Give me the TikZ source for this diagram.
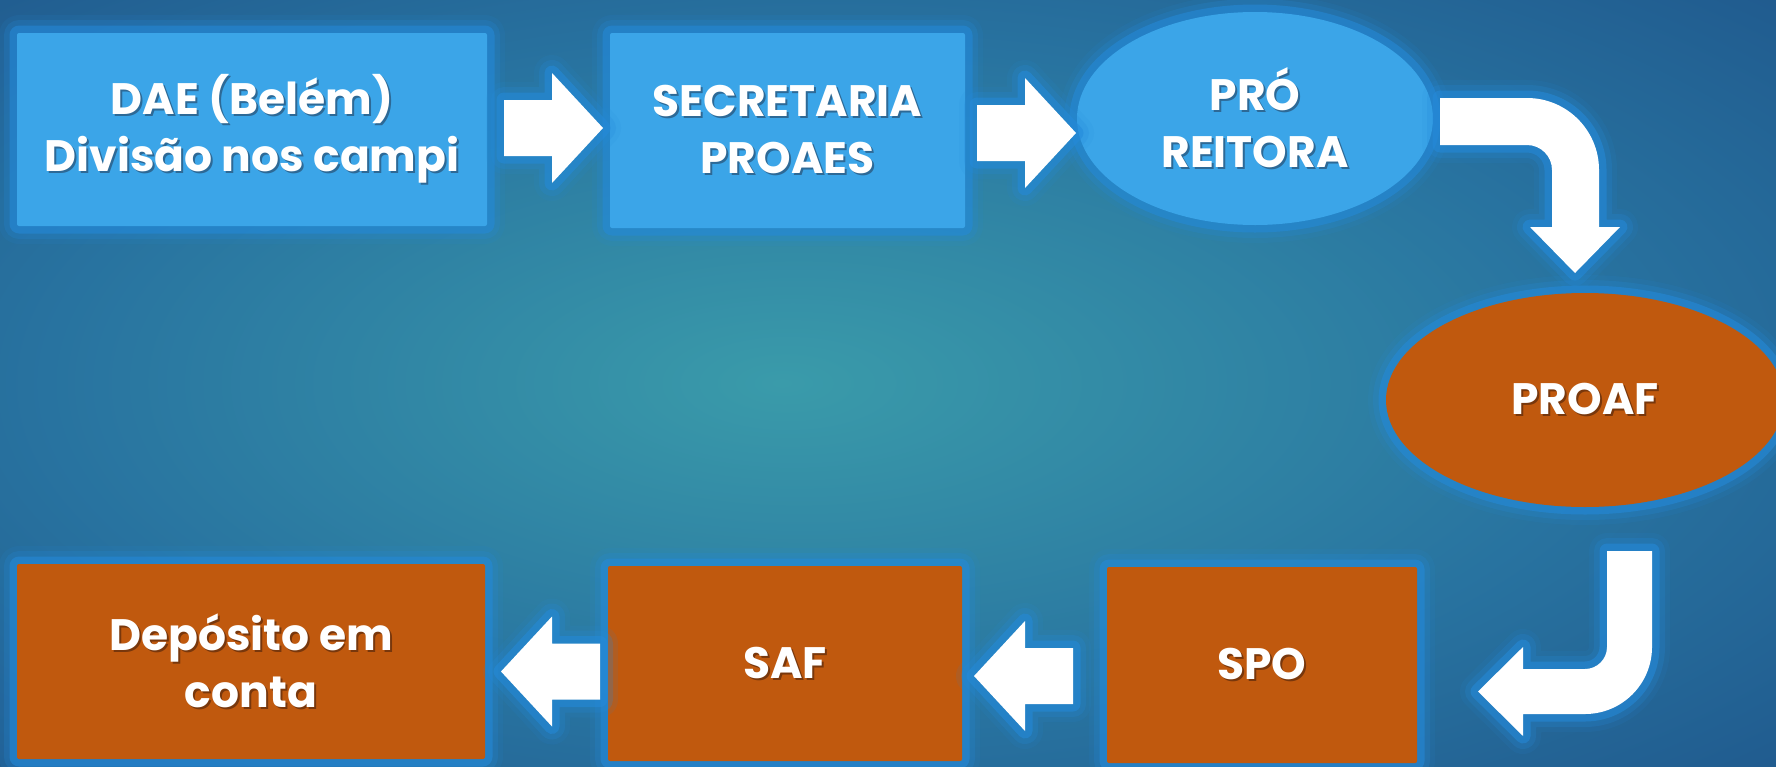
\documentclass[tikz,border=0pt]{standalone}
\usepackage{fontspec}
\setmainfont{Poppins}
\usetikzlibrary{shapes.geometric}

\definecolor{boxblue}{RGB}{59,165,232}
\definecolor{boxorange}{RGB}{192,89,14}
\definecolor{glowblue}{RGB}{36,138,218}
\definecolor{bgin}{RGB}{58,155,170}
\definecolor{bgmid}{RGB}{40,115,160}
\definecolor{bgout}{RGB}{25,68,126}
\definecolor{shblue}{RGB}{45,105,150}
\definecolor{shorange}{RGB}{120,55,12}

\pgfdeclareradialshading{slidebg}{\pgfpoint{-3bp}{0bp}}{color(0bp)=(bgin); color(22bp)=(bgmid); color(50bp)=(bgout)}

% white label with a small dark drop shadow
\newcommand\shtxt[1]{\leavevmode\rlap{\kern2pt\raisebox{-2pt}{\textcolor{\shcol}{#1}}}#1}

\tikzset{
  glow/.style={preaction={draw=glowblue, line width=36pt, draw opacity=0.10, line join=round},
               preaction={draw=glowblue, line width=26pt, draw opacity=0.22, line join=round},
               preaction={draw=glowblue, line width=15pt, draw opacity=0.55, line join=round}},
  label/.style={text=white, font=\bfseries\fontsize{44}{57}\selectfont, align=center, inner sep=0pt},
  bluebox/.style={rectangle, rounded corners=2pt, fill=boxblue, glow, label, execute at begin node=\def\shcol{shblue}},
  orangebox/.style={rectangle, rounded corners=2pt, fill=boxorange, glow, label, execute at begin node=\def\shcol{shorange}},
  blueoval/.style={ellipse, fill=boxblue, glow, label, execute at begin node=\def\shcol{shblue}},
  orangeoval/.style={ellipse, fill=boxorange, glow, label, execute at begin node=\def\shcol{shorange}},
  flowarrow/.pic={\fill[white, glow] (0,-28) -- (48,-28) -- (48,-55) -- (99,0) -- (48,55) -- (48,28) -- (0,28) -- cycle;}
}

\begin{document}
\begin{tikzpicture}[x=1pt,y=1pt,yscale=-1,xscale=1]
  %Background
  \shade[shading=slidebg] (0,0) rectangle (1776,766);
  \useasboundingbox (0,0) rectangle (1776,766);

  %Shape: Rectangle [top row]
  \node[bluebox, minimum width=470, minimum height=193] (dae) at (252,129.5) {\shtxt{DAE (Belém)}\\\shtxt{Divisão nos campi}};
  \node[bluebox, minimum width=355, minimum height=195] (secr) at (787.5,130.5) {\shtxt{SECRETARIA}\\\shtxt{PROAES}};
  %Shape: Ellipse
  \node[blueoval, minimum width=356, minimum height=213] (pro) at (1255,118.5) {\shtxt{PRÓ}\\\shtxt{REITORA}};
  \node[orangeoval, minimum width=398, minimum height=214] (proaf) at (1585,400) {\shtxt{PROAF}};

  %Shape: Rectangle [bottom row]
  \node[orangebox, minimum width=310, minimum height=196] (spo) at (1262,665) {\shtxt{SPO}};
  \node[orangebox, minimum width=354, minimum height=195] (saf) at (785,663.5) {\shtxt{SAF}};
  \node[orangebox, minimum width=468, minimum height=195] (dep) at (251,661.5) {\shtxt{Depósito em}\\\shtxt{conta}};

  %Shape: Right Arrow
  \pic (a1) at (504,128) {flowarrow};
  \pic (a2) at (977,133) {flowarrow};
  %Shape: Left Arrow
  \pic[rotate=180] (a3) at (1073,676) {flowarrow};
  \pic[rotate=180] (a4) at (600,671.5) {flowarrow};

  %Shape: Bent Arrow [pro -> proaf]
  \fill[white, glow] (1440,98) -- (1527,98) arc[start angle=-90, end angle=0, radius=72] -- (1599,227) -- (1620,227)
    -- (1575,273) -- (1530,227) -- (1552,227) -- (1552,170) arc[start angle=0, end angle=-90, radius=25] -- (1440,145) -- cycle;
  %Shape: Bent Arrow [proaf -> spo]
  \fill[white, glow] (1607,551) -- (1652,551) -- (1652,647) arc[start angle=0, end angle=90, radius=67] -- (1523,714) -- (1523,736)
    -- (1478,691.5) -- (1523,647) -- (1523,669) -- (1585,669) arc[start angle=90, end angle=0, radius=22] -- cycle;
\end{tikzpicture}
\end{document}
